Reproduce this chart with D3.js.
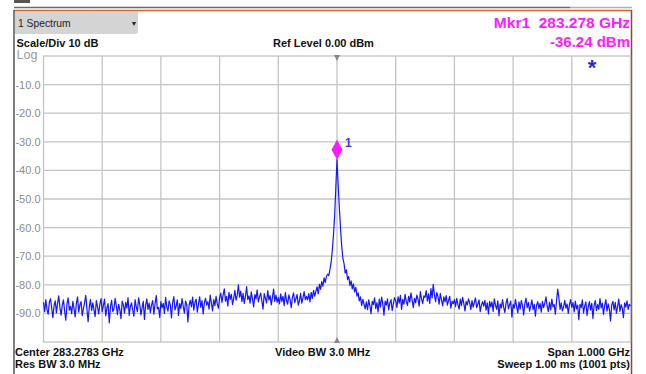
<!DOCTYPE html>
<html>
<head>
<meta charset="utf-8">
<script src="https://cdn.jsdelivr.net/npm/d3@7"></script>
<style>
  html, body { margin: 0; padding: 0; background: #fff; }
  svg { display: block; font-family: "Liberation Sans", Arial, sans-serif; }
</style>
</head>
<body>
<svg id="chart" width="646" height="374"></svg>
<script>
// frequency offset from center (MHz), 2 MHz per sample
var freqStart = -500, freqStep = 2;

// trace levels in dBm
var traceLevels = [
  -86.1,-89.4,-85.2,-88.7,-90.3,-86.0,-84.9,-88.2,-91.5,-87.3,-85.6,-89.8,-86.4,-83.9,-88.0,-90.6,-87.1,-85.3,-89.2,-92.4,-86.7,-84.6,-88.9,-87.5,-90.1,
  -85.8,-88.3,-91.2,-86.5,-84.2,-89.6,-87.0,-85.9,-90.8,-88.4,-86.2,-83.7,-88.6,-92.9,-87.8,-85.1,-89.0,-86.3,-88.8,-91.1,-85.5,-87.6,-90.2,-86.9,-84.8,
  -89.5,-87.2,-85.0,-90.9,-88.1,-86.6,-93.3,-87.9,-85.4,-89.3,-88.5,-84.7,-87.4,-90.4,-86.8,-88.7,-91.8,-85.7,-87.0,-89.9,-86.1,-88.2,-84.5,-90.7,-87.6,
  -86.3,-88.9,-91.0,-85.2,-87.7,-89.4,-84.6,-86.9,-90.5,-88.0,-85.8,-92.1,-87.3,-84.9,-88.6,-86.4,-89.7,-87.1,-85.5,-90.3,-86.7,-83.8,-88.4,-87.9,-91.4,
  -85.9,-88.1,-86.5,-90.0,-84.4,-87.8,-89.2,-85.6,-87.0,-91.6,-86.2,-84.1,-88.8,-87.4,-85.3,-90.7,-86.6,-88.3,-84.8,-87.5,-89.9,-85.7,-86.9,-93.0,-87.2,
  -85.4,-87.7,-84.3,-88.9,-86.1,-85.0,-89.6,-86.8,-84.2,-87.9,-85.5,-90.2,-86.3,-84.7,-87.1,-85.9,-88.5,-83.6,-86.4,-89.1,-85.2,-87.3,-84.0,-86.7,-88.2,
  -84.6,-82.9,-86.2,-83.5,-81.4,-85.7,-84.0,-87.4,-82.6,-85.1,-83.3,-86.9,-84.8,-81.9,-85.4,-83.7,-80.0,-84.3,-82.2,-85.9,-83.0,-86.5,-84.1,-80.6,-85.2,
  -83.9,-86.4,-82.5,-85.0,-87.7,-83.4,-84.9,-81.8,-86.0,-84.2,-82.9,-85.6,-88.5,-83.1,-84.7,-86.3,-82.0,-85.3,-83.8,-87.0,-84.4,-81.5,-85.8,-83.6,-86.1,
  -84.5,-86.7,-83.2,-85.9,-84.0,-87.3,-82.7,-85.4,-86.8,-83.5,-85.1,-88.0,-84.3,-82.8,-86.2,-84.9,-83.4,-87.1,-85.6,-83.0,-86.4,-84.6,-82.4,-85.2,-84.1,
  -85.3,-83.1,-86.0,-82.6,-84.8,-81.9,-84.0,-82.3,-80.7,-83.2,-79.8,-81.6,-78.9,-80.5,-77.6,-79.2,-77.0,-76.3,-76.8,-74.6,-72.1,-68.0,-62.5,-55.8,-46.0,
  -36.24,-45.3,-53.1,-60.2,-66.4,-70.8,-72.6,-75.9,-74.8,-78.2,-77.1,-80.3,-78.6,-81.4,-79.7,-82.5,-80.9,-84.0,-82.8,-85.6,-84.2,-87.3,-85.1,-86.8,-88.4,
  -86.0,-88.7,-85.3,-87.4,-90.1,-85.8,-86.9,-84.6,-88.3,-86.2,-89.5,-85.0,-87.8,-84.3,-86.5,-90.6,-85.7,-87.1,-84.9,-88.8,-86.4,-85.2,-89.0,-86.7,-84.5,
  -85.6,-87.9,-84.2,-86.4,-83.7,-88.6,-85.1,-86.8,-83.3,-85.9,-87.2,-84.0,-86.1,-82.8,-85.4,-88.0,-84.7,-86.3,-83.6,-85.0,-87.5,-82.4,-84.9,-86.6,-83.9,
  -84.4,-82.0,-85.7,-83.2,-86.5,-81.3,-84.6,-79.8,-83.5,-85.9,-82.7,-84.1,-86.8,-83.0,-85.3,-87.4,-84.2,-86.0,-83.8,-87.1,-85.5,-84.0,-88.2,-85.8,-86.6,
  -85.2,-87.6,-84.7,-86.9,-88.5,-85.0,-87.3,-84.4,-86.5,-89.1,-85.8,-87.0,-84.9,-86.2,-88.7,-85.5,-87.8,-86.1,-84.6,-88.0,-86.7,-85.3,-89.4,-87.1,-85.9,
  -87.5,-85.4,-88.9,-86.3,-90.2,-85.8,-87.7,-86.0,-89.3,-84.9,-87.2,-88.6,-85.6,-90.8,-86.7,-88.1,-85.2,-87.9,-89.7,-86.4,-84.8,-88.4,-87.0,-85.7,-91.3,
  -86.9,-88.2,-85.1,-87.6,-89.8,-86.0,-88.5,-85.5,-87.3,-90.5,-86.6,-84.7,-88.0,-86.2,-89.2,-87.4,-85.3,-88.7,-86.8,-91.0,-87.1,-85.9,-88.3,-86.5,-89.6,
  -85.8,-88.0,-86.4,-84.2,-87.5,-89.4,-86.1,-88.8,-85.0,-87.7,-86.9,-90.3,-85.6,-81.5,-84.5,-88.6,-86.3,-89.1,-87.8,-85.4,-88.2,-86.7,-90.0,-87.0,-85.2,
  -87.9,-86.2,-89.5,-85.7,-88.4,-87.1,-92.2,-86.8,-88.0,-85.3,-89.9,-87.4,-86.0,-90.7,-87.7,-85.9,-88.9,-86.5,-91.8,-87.2,-85.5,-89.0,-86.9,-88.6,-84.8,
  -88.1,-86.4,-90.4,-87.3,-85.2,-89.2,-86.7,-88.5,-92.6,-87.0,-85.8,-88.8,-86.1,-90.0,-87.6,-85.0,-89.3,-86.9,-88.2,-91.5,-86.3,-87.8,-85.6,-88.6,-86.8,
  -87.4
];

// axis ticks
var levelTicks = [-10, -20, -30, -40, -50, -60, -70, -80, -90];
var freqGrid = [-400, -300, -200, -100, 0, 100, 200, 300, 400];

// marker
var markerFreq = 0, markerLevel = -36.24;

var headerLeft = ["Scale/Div 10 dB"];
var footerLeft = ["Center 283.2783 GHz", "Res BW 3.0 MHz"];
var footerRight = ["Span 1.000 GHz", "Sweep 1.00 ms (1001 pts)"];

var app = {
	init: function(){
		var svg = d3.select("#chart");

		var x = d3.scaleLinear().domain([-500, 500]).range([43.5, 630.5]);
		var y = d3.scaleLinear().domain([-100, 0]).range([342, 56]);

		//frame bits
		svg.append("rect").attr("x", 14).attr("y", 0).attr("width", 16).attr("height", 3).attr("fill", "#555");
		svg.append("line").attr("x1", 14).attr("x2", 570).attr("y1", 7.5).attr("y2", 7.5)
			.attr("stroke", "#6a6a6a").attr("stroke-width", 1.5);
		svg.append("line").attr("x1", 570).attr("x2", 632).attr("y1", 7.5).attr("y2", 7.5)
			.attr("stroke", "#b0b0b0").attr("stroke-width", 1.5);
		svg.append("line").attr("x1", 14).attr("x2", 632).attr("y1", 10.5).attr("y2", 10.5)
			.attr("stroke", "#e0622a").attr("stroke-width", 1.5);
		svg.append("line").attr("x1", 14).attr("x2", 14).attr("y1", 10).attr("y2", 374)
			.attr("stroke", "#555").attr("stroke-width", 1.5);
		svg.append("line").attr("x1", 631.5).attr("x2", 631.5).attr("y1", 10).attr("y2", 374)
			.attr("stroke", "#8a4a30").attr("stroke-width", 1.5);

		//spectrum tab
		svg.append("path")
			.attr("d", "M15,11 H138 V31 Q138,34 135,34 H15 Z")
			.attr("fill", "#d4d4d4");
		svg.append("text").attr("x", 18).attr("y", 27.3).attr("font-size", 10.3).attr("fill", "#222").text("1 Spectrum");
		svg.append("text").attr("x", 134).attr("y", 26).attr("font-size", 7).attr("text-anchor", "middle").attr("fill", "#222").text("▼");

		//header text
		svg.append("text").attr("x", 16.5).attr("y", 46.7).attr("font-size", 11).attr("font-weight", "bold").attr("fill", "#111").text(headerLeft[0]);
		svg.append("text").attr("x", 273).attr("y", 46.5).attr("font-size", 11).attr("font-weight", "bold").attr("fill", "#111").text("Ref Level 0.00 dBm");
		svg.append("text").attr("x", 16.5).attr("y", 59.3).attr("font-size", 12.5).attr("fill", "#9a9a9a").text("Log");

		svg.append("text").attr("x", 630).attr("y", 28.3).attr("font-size", 15.5).attr("font-weight", "bold")
			.attr("text-anchor", "end").attr("fill", "#ff1aff").attr("xml:space", "preserve").text("Mkr1  283.278 GHz");
		svg.append("text").attr("x", 630).attr("y", 46.7).attr("font-size", 15).attr("font-weight", "bold")
			.attr("text-anchor", "end").attr("fill", "#ff1aff").text(markerLevel.toFixed(2) + " dBm");

		//grid
		var grid = svg.append("g").attr("class", "grid");
		grid.selectAll("line.h").data(levelTicks).enter().append("line").attr("class", "h")
			.attr("x1", x.range()[0]).attr("x2", x.range()[1])
			.attr("y1", function(d){ return y(d); }).attr("y2", function(d){ return y(d); });
		grid.selectAll("line.v").data(freqGrid).enter().append("line").attr("class", "v")
			.attr("y1", y.range()[1]).attr("y2", y.range()[0])
			.attr("x1", function(d){ return x(d); }).attr("x2", function(d){ return x(d); });
		grid.append("rect")
			.attr("x", x.range()[0]).attr("y", y.range()[1])
			.attr("width", x.range()[1] - x.range()[0]).attr("height", y.range()[0] - y.range()[1])
			.attr("fill", "none");
		grid.selectAll("line, rect").attr("stroke", "#c4c4c4").attr("stroke-width", 1.3);

		//level labels
		var yAxis = d3.axisLeft(y).tickValues(levelTicks).tickSize(0).tickPadding(3)
			.tickFormat(function(d){ return d.toFixed(1); });
		var ag = svg.append("g").attr("transform", "translate(" + x.range()[0] + ",0)").call(yAxis);
		ag.select(".domain").remove();
		ag.selectAll("text").attr("fill", "#8c8c8c").attr("font-size", 11)
			.attr("font-family", "\"Liberation Sans\", Arial, sans-serif");

		//center triangles
		var cx = x(0);
		svg.append("path").attr("d", "M" + (cx - 3) + "," + (y(0) - 1) + " L" + (cx + 3) + "," + (y(0) - 1) + " L" + cx + "," + (y(0) + 5) + " Z").attr("fill", "#888");
		svg.append("path").attr("d", "M" + (cx - 3) + "," + (y(-100) + 1) + " L" + (cx + 3) + "," + (y(-100) + 1) + " L" + cx + "," + (y(-100) - 5) + " Z").attr("fill", "#888");

		//trace
		var line = d3.line()
			.x(function(d, i){ return x(freqStart + i * freqStep); })
			.y(function(d){ return y(d); });
		svg.append("path").datum(traceLevels)
			.attr("d", line)
			.attr("fill", "none")
			.attr("stroke", "#1515ff")
			.attr("stroke-width", 1.2)
			.attr("stroke-linejoin", "round");

		//marker diamond
		var mx = x(markerFreq), my = y(markerLevel);
		svg.append("path")
			.attr("d", "M" + mx + "," + my + " L" + (mx - 5.5) + "," + (my - 10) + " L" + mx + "," + (my - 20) + " L" + (mx + 5.5) + "," + (my - 10) + " Z")
			.attr("fill", "#ff1aff");
		svg.append("text").attr("x", mx + 8).attr("y", my - 13).attr("font-size", 12).attr("font-weight", "bold")
			.attr("fill", "#3b3bd8").text("1");

		//asterisk
		svg.append("text").attr("x", 592).attr("y", 75).attr("font-size", 22).attr("font-weight", "bold")
			.attr("text-anchor", "middle").attr("fill", "#2a2ad0").text("*");

		//footer
		svg.selectAll("text.fl").data(footerLeft).enter().append("text").attr("class", "fl")
			.attr("x", 15).attr("y", function(d, i){ return 355.5 + i * 12; })
			.attr("font-size", 11).attr("font-weight", "bold").attr("fill", "#111").text(function(d){ return d; });
		svg.append("text").attr("x", 275).attr("y", 355.5).attr("font-size", 11).attr("font-weight", "bold").attr("fill", "#111").text("Video BW 3.0 MHz");
		svg.selectAll("text.fr").data(footerRight).enter().append("text").attr("class", "fr")
			.attr("x", 630).attr("y", function(d, i){ return 355.5 + i * 12; })
			.attr("text-anchor", "end")
			.attr("font-size", 11).attr("font-weight", "bold").attr("fill", "#111").text(function(d){ return d; });
	}
};

app.init();
</script>
</body>
</html>
